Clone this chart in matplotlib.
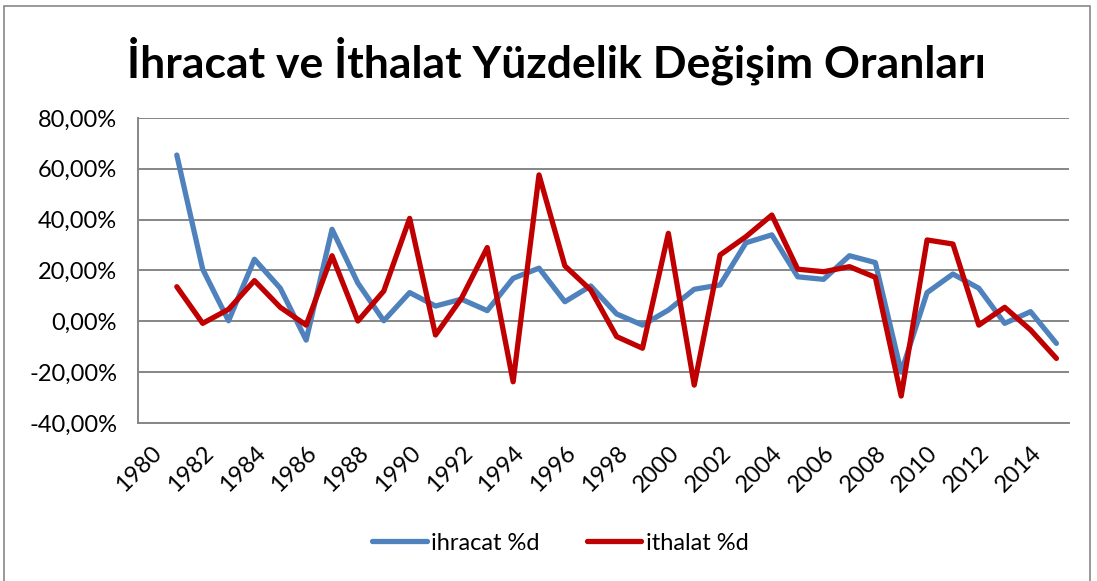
import matplotlib
matplotlib.use("Agg")
import matplotlib.pyplot as plt
from matplotlib.patches import Rectangle
from matplotlib.ticker import FuncFormatter
from matplotlib.transforms import ScaledTranslation
import numpy as np

plt.rcParams['font.family'] = ['Lato', 'DejaVu Sans']

# categories on the x axis (1980 has no value)
years = list(range(1980, 2016))
# percentage change of exports (ihracat) 1981-2015
ihracat = [65.4, 20.5, 0.2, 24.4, 13.0, -7.4, 36.2, 15.0, 0.2, 11.3,
           6.0, 8.7, 4.2, 16.9, 20.9, 7.7, 13.9, 2.9, -1.5, 4.4,
           12.6, 14.3, 30.9, 34.0, 17.5, 16.5, 25.8, 23.1, -20.0, 11.3,
           18.6, 13.0, -0.8, 3.8, -8.7]
# percentage change of imports (ithalat) 1981-2015
ithalat = [13.6, -0.8, 4.7, 16.0, 5.5, -1.5, 25.8, 0.1, 11.9, 40.5,
           -5.4, 9.0, 29.0, -23.8, 57.6, 21.8, 12.3, -6.0, -10.6, 34.6,
           -25.1, 26.1, 33.3, 41.8, 20.5, 19.5, 21.5, 17.3, -29.4, 32.0,
           30.4, -1.5, 5.5, -3.4, -14.6]

title = "İhracat ve İthalat Yüzdelik Değişim Oranları"

fig = plt.figure(figsize=(10.97, 5.81), dpi=100)
ax = fig.add_axes([0.1258, 0.272, 0.849, 0.525])

x = np.arange(1, len(years))
grid_c = "#868686"
ax.plot(x, ihracat, color="#4F81BD", lw=3.8, solid_capstyle="round",
        solid_joinstyle="round", label="ihracat %d")
ax.plot(x, ithalat, color="#C00000", lw=3.8, solid_capstyle="round",
        solid_joinstyle="round", label="ithalat %d")

ax.set_xlim(-0.5, len(years) - 0.5)
ax.set_ylim(-40, 80)
ax.set_yticks(np.arange(-40, 81, 20))
ax.yaxis.set_major_formatter(FuncFormatter(lambda v, p: f"{v:.2f}%".replace(".", ",")))
ax.yaxis.grid(True, color=grid_c, lw=1.4)
ax.set_axisbelow(True)

ax.set_xticks(np.arange(0, len(years), 2))
ax.set_xticklabels([str(y) for y in years[::2]], rotation=45, ha="right",
                   va="top", rotation_mode="anchor")
shift = ScaledTranslation(-10 / 100, 0, fig.dpi_scale_trans)
for lab in ax.get_xticklabels():
    lab.set_transform(lab.get_transform() + shift)

ax.tick_params(axis="both", length=0, labelsize=17, colors="black")
ax.tick_params(axis="x", pad=14)
ax.tick_params(axis="y", pad=15)
for s in ["top", "right"]:
    ax.spines[s].set_visible(False)
for s in ["left", "bottom"]:
    ax.spines[s].set_color(grid_c)
    ax.spines[s].set_linewidth(1.4)

fig.text(0.507, 0.895, title, ha="center", va="center",
         fontsize=32, fontweight="bold")

fig.legend(loc="center", bbox_to_anchor=(0.511, 0.065), ncol=2, frameon=False,
           fontsize=17, handlelength=2.3, handletextpad=0.2, columnspacing=2.0)

fig.patches.append(Rectangle((0.004, -0.01), 0.99, 1.0, transform=fig.transFigure,
                             fill=False, edgecolor="#888888", lw=1.2))

fig.savefig("out.png", dpi=100)
